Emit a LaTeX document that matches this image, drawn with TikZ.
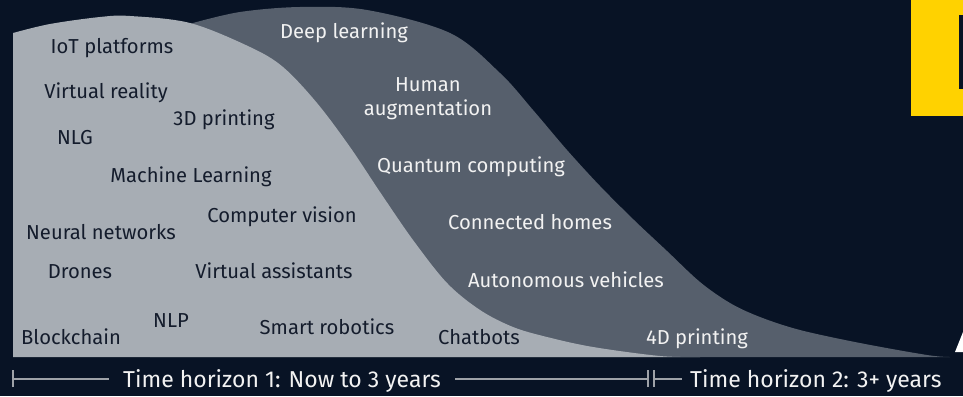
\documentclass[tikz,border=0pt]{standalone}
\usepackage{fontspec}
\setmainfont{Fira Sans}
\definecolor{bgc}{HTML}{081325}
\definecolor{lightc}{HTML}{A7ADB4}
\definecolor{darkc}{HTML}{565F6C}
\definecolor{navyt}{HTML}{141C2C}
\definecolor{whitet}{HTML}{F2F2F2}
\definecolor{axisc}{HTML}{9EA2A8}
\definecolor{eyyellow}{HTML}{FFD200}
\tikzset{
  lbl/.style={font=\fontsize{20.2}{24}\selectfont, anchor=base, inner sep=0pt},
  onlight/.style={lbl, text=navyt},
  ondark/.style={lbl, text=whitet},
  axtext/.style={font=\fontsize{23}{27}\selectfont, anchor=base, text=whitet, inner xsep=14pt, inner ysep=0pt},
  axline/.style={draw=axisc, line width=1.6pt},
  axbar/.style={draw=axisc, line width=1.4pt}
}
\begin{document}
\begin{tikzpicture}[x=1pt,y=-1pt]
\fill[bgc] (0,0) rectangle (963,396);
\useasboundingbox (0,0) rectangle (963,396);
% yellow box and cut-off glyphs
\fill[eyyellow] (911,0) rectangle (963,116);
\fill[bgc] (959,15) rectangle (963,89);
\fill[white] (955,352) -- (963,352) -- (963,332) -- cycle;
% dark (time horizon 2) shape
\fill[darkc] (150,357) -- (150,40) -- plot[smooth, tension=0.55] coordinates {(193,23) (240,12) (300,7) (367,10) (450,33) (500,73) (533,110) (567,150) (600,186) (634,220) (667,251) (700,282) (730,303) (760,317) (800,330) (860,343) (927,355) (950,357)} -- cycle;
% light (time horizon 1) shape
\fill[lightc] (13,357) -- plot[smooth, tension=0.55] coordinates {(13,33) (50,24) (100,17) (130,16) (190,23) (250,47) (283,67) (317,103) (350,147) (380,192) (413,240) (447,283) (480,310) (513,327) (547,337) (593,347) (660,356) (700,357)} -- cycle;
% labels on light area
\node[onlight] (iot) at (112,54) {IoT platforms};
\node[onlight] (vr) at (106,98) {Virtual reality};
\node[onlight] (p3d) at (224,125) {3D printing};
\node[onlight] (nlg) at (75,144) {NLG};
\node[onlight] (ml) at (191,182) {Machine Learning};
\node[onlight] (cv) at (282,222) {Computer vision};
\node[onlight] (nn) at (101,239) {Neural networks};
\node[onlight] (dr) at (80,278) {Drones};
\node[onlight] (va) at (274,278) {Virtual assistants};
\node[onlight] (nlp) at (171,327) {NLP};
\node[onlight] (bc) at (71,344) {Blockchain};
\node[onlight] (sr) at (327,334) {Smart robotics};
\node[onlight] (cb) at (479,344) {Chatbots};
% labels on dark area
\node[ondark] (dl) at (344,38) {Deep learning};
\node[ondark, anchor=center, align=center, font=\fontsize{20.2}{24}\selectfont] (ha) at (428,99) {Human\\augmentation};
\node[ondark] (qc) at (471,172) {Quantum computing};
\node[ondark] (ch) at (530,229) {Connected homes};
\node[ondark] (av) at (566,287) {Autonomous vehicles};
\node[ondark] (p4d) at (697,344) {4D printing};
% time axis
\coordinate (a0) at (13,379);
\coordinate (m1) at (648,379);
\coordinate (m2) at (654,379);
\node[axtext] (t1) at (282,387) {Time horizon 1: Now to 3 years};
\node[axtext, anchor=base west, inner xsep=8pt] (t2) at (682,387) {Time horizon 2: 3+ years};
\draw[axbar] ([yshift=-8pt]a0) -- ([yshift=9pt]a0);
\draw[axline] (a0) -- (a0 -| t1.west);
\draw[axline] (m1 -| t1.east) -- (m1);
\draw[axbar] ([yshift=-8pt]m1) -- ([yshift=9pt]m1);
\draw[axbar] ([yshift=-8pt]m2) -- ([yshift=9pt]m2);
\draw[axline] (m2) -- (m2 -| t2.west);
\end{tikzpicture}
\end{document}
